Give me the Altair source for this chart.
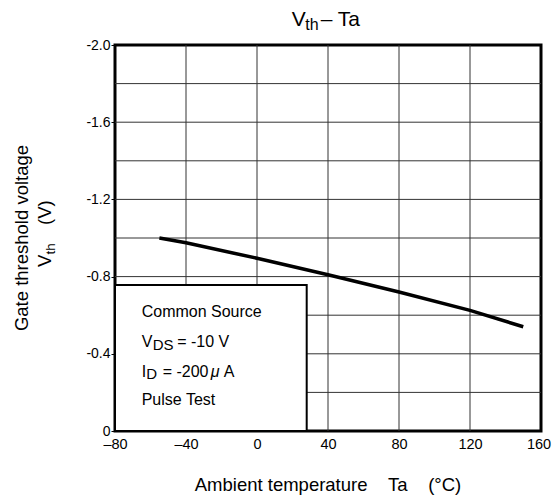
import altair as alt
import pandas as pd

FONT = "Liberation Sans"

# data
temp = [-55, -40, 0, 40, 80, 120, 150]
vth = [-1.0, -0.975, -0.895, -0.81, -0.72, -0.625, -0.54]

x_grid = [-40, 0, 40, 80, 120]
y_grid = [-1.8, -1.6, -1.4, -1.2, -1.0, -0.8, -0.6, -0.4, -0.2]
x_ticks = [-80, -40, 0, 40, 80, 120, 160]
y_ticks = [-2.0, -1.6, -1.2, -0.8, -0.4, 0.0]

box_x = [-80, 28]
box_y = [0.0, -0.757]

W, H = 426, 386
xs = alt.Scale(domain=[-80, 160], nice=False, zero=False)
ys = alt.Scale(domain=[-2.0, 0.0], reverse=True, nice=False, zero=False)

x_axis = alt.Axis(values=x_ticks, grid=False, ticks=False, domain=False,
                  labelExpr="datum.value < 0 ? '\u2013' + (-datum.value) : '' + datum.value",
                  labelFontSize=14.5, labelFont=FONT, labelColor="black", labelPadding=6,
                  labelOffset={"condition": {"test": "datum.value == 160", "value": -2.5}, "value": 0},
                  labelFlush=False, labelOverlap=False, title=None)
y_axis = alt.Axis(values=y_ticks, grid=False, ticks=True, tickSize=4, tickColor="black",
                  domain=False,
                  labelExpr="datum.value == 0 ? '0' : '-' + format(-datum.value, '.1f')",
                  labelFontSize=14, labelFont=FONT, labelColor="black", labelPadding=1,
                  labelFlush=False, labelOverlap=False, title=None)

grid_v = alt.Chart(pd.DataFrame({"x": x_grid})).mark_rule(color="#333", strokeWidth=1).encode(
    x=alt.X("x:Q", scale=xs, axis=x_axis))
grid_h = alt.Chart(pd.DataFrame({"y": y_grid})).mark_rule(color="#333", strokeWidth=1).encode(
    y=alt.Y("y:Q", scale=ys, axis=y_axis))

box = alt.Chart(pd.DataFrame({"x": [box_x[0]], "x2": [box_x[1]], "y": [box_y[0]], "y2": [box_y[1]]})).mark_rect(
    fill="white", stroke="black", strokeWidth=2).encode(
    x=alt.X("x:Q", scale=xs, axis=x_axis), x2="x2:Q",
    y=alt.Y("y:Q", scale=ys, axis=y_axis), y2="y2:Q")

line = alt.Chart(pd.DataFrame({"Ta": temp, "Vth": vth})).mark_line(
    color="black", strokeWidth=3.5, strokeCap="butt").encode(
    x=alt.X("Ta:Q", scale=xs, axis=x_axis),
    y=alt.Y("Vth:Q", scale=ys, axis=y_axis))

one = pd.DataFrame({"a": [0]})


def txt(s, x, y, size=16, dx=0, dy=0, align="left", baseline="alphabetic", angle=0, style="normal"):
    props = dict(align=align, baseline=baseline, fontSize=size, font=FONT, color="black",
                 dx=dx, dy=dy, fontStyle=style)
    if angle:
        props["angle"] = angle
    return alt.Chart(one).mark_text(**props).encode(
        x=alt.value(x), y=alt.value(y), text=alt.value(s))


texts = []
# chart title  V_th – Ta
tx, ty = 176.7, -19
texts += [txt("V", tx, ty, size=21), txt("th", tx, ty, size=16, dx=13.5, dy=4),
          txt("\u2013 Ta", tx, ty, size=21, dx=29)]
# note box
bx = 26.7
texts += [txt("Common Source", bx, 272, size=16),
          txt("V", bx, 302, size=16), txt("DS", bx, 302, size=15, dx=11, dy=2.5),
          txt("= -10 V", bx, 302, size=16, dx=35.5),
          txt("I", bx, 331.5, size=16), txt("D", bx, 331.5, size=15, dx=4.5, dy=2.5),
          txt("= -200", bx, 331.5, size=16, dx=21), txt("\u03bc", bx, 331.5, size=16, dx=69, style="italic"),
          txt("A", bx, 331.5, size=16, dx=82),
          txt("Pulse Test", bx, 360, size=16)]
# axis titles
texts += [txt("Ambient temperature\u00a0\u00a0\u00a0\u00a0Ta\u00a0\u00a0\u00a0\u00a0(\u00b0C)", W / 2, 446,
              size=18.5, align="center")]
texts += [txt("Gate threshold voltage", -87, 193, size=18.5, align="center", angle=270)]
vx, vy = -64, 222
texts += [txt("V", vx, vy, size=18.5, angle=270), txt("th", vx, vy, size=13.5, dx=12.5, dy=3.5, angle=270),
          txt("(V)", vx, vy, size=18.5, dx=42, angle=270)]

chart = alt.layer(grid_v, grid_h, box, line, *texts).properties(
    width=W, height=H,
    autosize=alt.AutoSizeParams(type="none"),
    padding={"left": 107, "top": 37, "right": 11, "bottom": 64},
    background="white",
).configure_view(stroke="black", strokeWidth=3)

chart.save("out.html", embed_options={"renderer": "svg", "actions": False})
